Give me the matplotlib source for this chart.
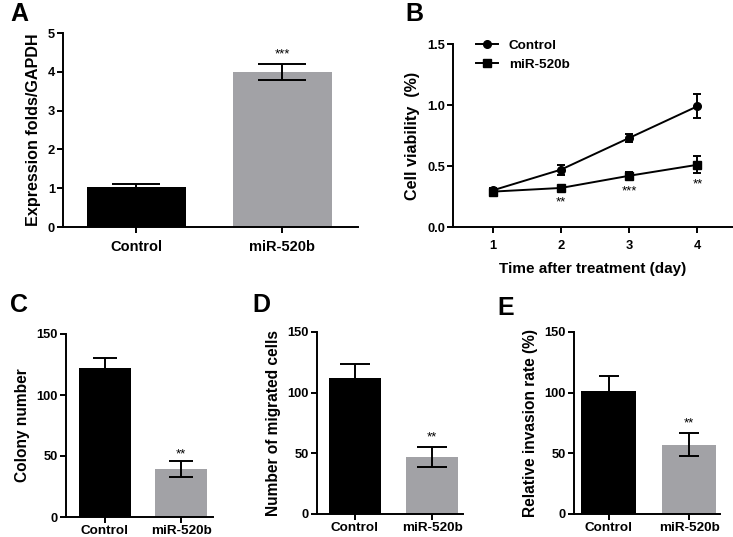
import matplotlib
matplotlib.use("Agg")
import matplotlib.pyplot as plt
from matplotlib.lines import Line2D

plt.rcParams['font.family'] = ['Liberation Sans', 'DejaVu Sans']
plt.rcParams['font.weight'] = 'bold'
plt.rcParams['axes.linewidth'] = 1.4

groups = ['Control', 'miR-520b']
bar_colors = ['#000000', '#a2a2a6']

# panel A
expr_mean = [1.02, 4.0]
expr_err = [0.10, 0.20]
expr_sig = '***'

# panel B
days = [1, 2, 3, 4]
viab_ctrl = [0.30, 0.47, 0.73, 0.99]
viab_ctrl_err = [0.02, 0.04, 0.03, 0.10]
viab_mir = [0.29, 0.32, 0.42, 0.51]
viab_mir_err = [0.02, 0.02, 0.03, 0.07]
viab_sig = ['**', '***', '**']
viab_sig_y = [0.20, 0.29, 0.35]

# panels C, D, E
colony_mean = [122, 39]
colony_err = [8, 6.5]
migr_mean = [112, 47]
migr_err = [12, 8]
inva_mean = [101, 57]
inva_err = [12.5, 9.5]

W, H = 733, 537
fig = plt.figure(figsize=(W / 100, H / 100), dpi=100)


def px_axes(left, top, right, bottom):
    return fig.add_axes([left / W, 1 - bottom / H, (right - left) / W, (bottom - top) / H])


def style(ax, size=9.3):
    ax.spines['top'].set_visible(False)
    ax.spines['right'].set_visible(False)
    ax.tick_params(axis='both', direction='out', length=4.3, width=1.4, labelsize=size, pad=1.5)
    for lab in ax.get_xticklabels() + ax.get_yticklabels():
        lab.set_fontweight('bold')


def bar_panel(ax, means, errs, ylim, yticks, ylabel, sig, sig_y, xlim,
              cap=9, label_size=11.2, cat_size=9.7, width=0.68):
    x = range(len(groups))
    ax.bar(x, means, width=width, color=bar_colors, zorder=2)
    ax.errorbar(x, means, yerr=errs, fmt='none', ecolor='black', elinewidth=1.4,
                capsize=cap, capthick=1.4, zorder=3)
    ax.set_xlim(*xlim)
    ax.set_ylim(*ylim)
    ax.set_yticks(yticks)
    ax.set_xticks(list(x))
    ax.set_ylabel(ylabel, fontsize=label_size, fontweight='bold', labelpad=5)
    ax.text(1, sig_y, sig, ha='center', va='center', fontsize=9.5, fontweight='normal')
    style(ax)
    ax.set_xticklabels(groups, fontsize=cat_size, fontweight='bold')


# A
axA = px_axes(63, 33, 358, 227)
bar_panel(axA, expr_mean, expr_err, (0, 5), [0, 1, 2, 3, 4, 5], 'Expression folds/GAPDH',
          expr_sig, 4.45, (-0.503, 1.517), cap=17, label_size=11.6, cat_size=10.5)
axA.tick_params(axis='x', pad=5)

# B
axB = px_axes(453, 44, 733, 227)
axB.errorbar(days, viab_ctrl, yerr=viab_ctrl_err, color='black', marker='o', markersize=5.5,
             linewidth=1.4, elinewidth=1.4, capsize=2.8, capthick=1.4)
axB.errorbar(days, viab_mir, yerr=viab_mir_err, color='black', marker='s', markersize=5.5,
             linewidth=1.4, elinewidth=1.4, capsize=2.8, capthick=1.4)
for d, s, y in zip(days[1:], viab_sig, viab_sig_y):
    axB.text(d, y, s, ha='center', va='center', fontsize=9.5, fontweight='normal')
axB.set_xlim(0.42, 4.52)
axB.set_ylim(0, 1.5)
axB.set_xticks(days)
axB.set_yticks([0, 0.5, 1.0, 1.5])
axB.set_yticklabels(['0.0', '0.5', '1.0', '1.5'])
axB.set_xlabel('Time after treatment (day)', fontsize=11, fontweight='bold', labelpad=7)
axB.set_ylabel('Cell viability  (%)', fontsize=11.6, fontweight='bold', labelpad=5)
style(axB)
axB.tick_params(axis='x', pad=5)
handles = [Line2D([], [], color='black', marker='o', markersize=5.5, linewidth=1.4),
           Line2D([], [], color='black', marker='s', markersize=5.5, linewidth=1.4)]
leg = axB.legend(handles, groups, loc='upper left', bbox_to_anchor=(0.04, 1.09), frameon=False,
                 fontsize=9.7, handlelength=1.6, handletextpad=0.8, labelspacing=0.45)
for t in leg.get_texts():
    t.set_fontweight('bold')

# C, D, E
axC = px_axes(66, 334, 213, 517)
bar_panel(axC, colony_mean, colony_err, (0, 150), [0, 50, 100, 150], 'Colony number',
          '**', 51, (-0.51, 1.42), cap=8.5)
axD = px_axes(317, 332, 463, 514)
bar_panel(axD, migr_mean, migr_err, (0, 150), [0, 50, 100, 150], 'Number of migrated cells',
          '**', 63, (-0.49, 1.40), cap=10.5)
axE = px_axes(574, 332, 720, 514)
bar_panel(axE, inva_mean, inva_err, (0, 150), [0, 50, 100, 150], 'Relative invasion rate (%)',
          '**', 75, (-0.43, 1.385), cap=7.5)

# panel letters
for letter, (x, y) in zip('ABCDE', [(10, 14), (405, 14), (10, 305), (252, 305), (497, 308)]):
    fig.text(x / W, 1 - y / H, letter, fontsize=18, fontweight='bold', ha='left', va='center')

fig.savefig('out.png', dpi=100)
